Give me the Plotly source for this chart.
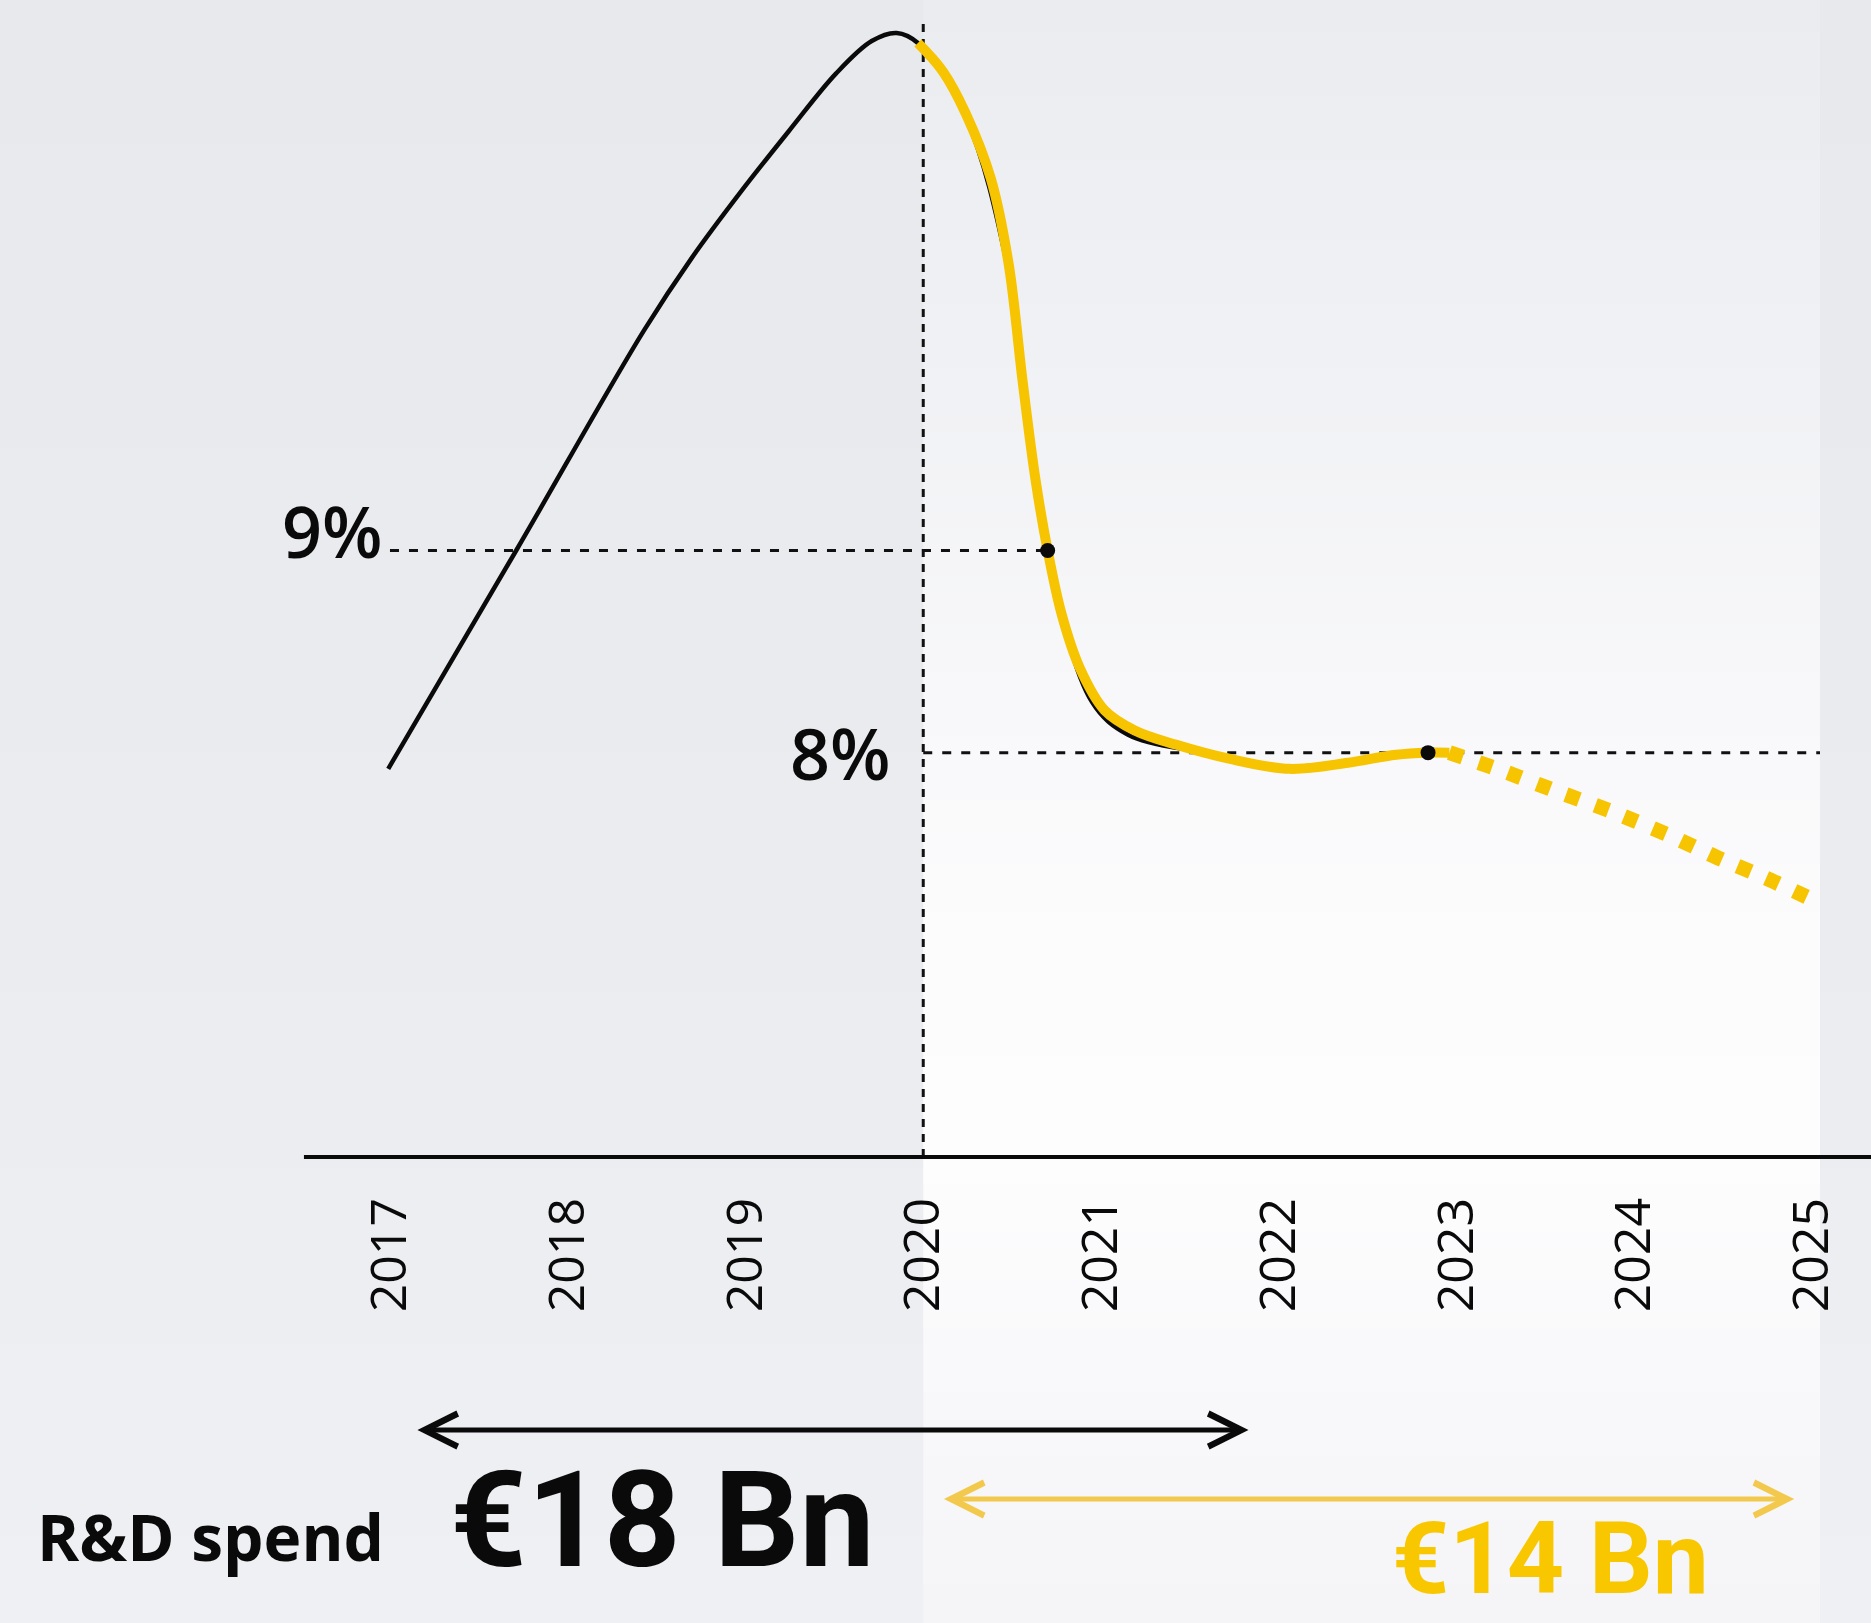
import plotly.graph_objects as go

# ---- data -----------------------------------------------------------------
years = [2017, 2018, 2019, 2020, 2021, 2022, 2023, 2024, 2025]
year_labels = ["2017", "2018", "2019", "2020", "2021", "2022", "2023", "2024", "2025"]

# operating margin, historical path (%)
hist_x = [2016.99, 2017.71, 2018.43, 2018.70, 2018.97, 2019.24, 2019.51, 2019.71,
          2019.85, 2019.97, 2020.24, 2020.48, 2020.70, 2020.95, 2021.15, 2021.45]
hist_y = [7.92, 9.00, 10.09, 10.45, 10.77, 11.07, 11.36, 11.52,
          11.56, 11.51, 11.14, 10.38, 9.00, 8.25, 8.09, 8.02]

# operating margin, plan path (%)
plan_x = [2019.97, 2020.11, 2020.24, 2020.38, 2020.48, 2020.56, 2020.63, 2020.70,
          2020.78, 2020.88, 2021.02, 2021.19, 2021.42, 2021.72, 2022.06, 2022.39,
          2022.66, 2022.84, 2022.96]
plan_y = [11.51, 11.37, 11.16, 10.84, 10.42, 9.83, 9.36, 9.00,
          8.68, 8.42, 8.21, 8.11, 8.04, 7.97, 7.92, 7.95,
          7.99, 8.00, 8.00]

# operating margin, projection (%)
proj_x = [2022.96, 2023.26, 2023.53, 2023.87, 2024.20, 2024.47, 2024.74, 2025.01]
proj_y = [8.00, 7.91, 7.82, 7.71, 7.59, 7.48, 7.38, 7.27]

# milestones
key_x = [2020.70, 2022.84]
key_y = [9.0, 8.0]
key_labels = ["9%", "8%"]

spend_title = "R&D spend"
spend_labels = ["€18 Bn", "€14 Bn"]

# ---- styling ----------------------------------------------------------------
W, H = 1871, 1623
AXIS_FRAC = 1 - 1157 / H          # paper height of the baseline
X_RANGE = [2014.806, 2025.332]
Y_RANGE = [6.0, 11.723]
YELLOW = "#F6C400"
ARROW_YELLOW = "#F2C94C"
BLACK = "#0a0a0a"
BAND_X = [2020.0, 2025.045]


def lerp_color(stops, t):
    for (t0, c0), (t1, c1) in zip(stops, stops[1:]):
        if t0 <= t <= t1:
            f = 0 if t1 == t0 else (t - t0) / (t1 - t0)
            return "rgb(%d,%d,%d)" % tuple(round(a + (b - a) * f) for a, b in zip(c0, c1))
    return "rgb(%d,%d,%d)" % stops[-1][1]


def gradient_strips(stops, xref, x0, x1, step=16):
    out = []
    for top in range(0, H, step):
        bot = min(H, top + step)
        col = lerp_color(stops, (top + bot) / 2)
        out.append(dict(type="rect", xref=xref, yref="paper", x0=x0, x1=x1,
                        y0=1 - bot / H, y1=1 - top / H, fillcolor=col,
                        line=dict(width=0), layer="below"))
    return out


page_stops = [(0, (232, 233, 237)), (900, (235, 236, 240)), (H, (239, 240, 243))]
band_stops = [(0, (235, 236, 240)), (400, (241, 242, 245)), (700, (248, 248, 250)),
              (950, (252, 252, 253)), (1157, (253, 253, 254)), (1350, (249, 249, 251)),
              (H, (245, 245, 248))]

shapes = []
shapes += gradient_strips(page_stops, "paper", 0, 1)
shapes += gradient_strips(band_stops, "x", BAND_X[0], BAND_X[1])

ref_line = dict(color="#111111", width=3, dash="9px,10px")
shapes += [
    dict(type="line", xref="x", yref="y", x0=2017.0, x1=key_x[0], y0=key_y[0], y1=key_y[0],
         line=ref_line, layer="below"),
    dict(type="line", xref="x", yref="y", x0=2020.0, x1=BAND_X[1], y0=key_y[1], y1=key_y[1],
         line=ref_line, layer="below"),
    dict(type="line", xref="x", yref="y", x0=2020.0, x1=2020.0, y0=Y_RANGE[0], y1=11.63,
         line=dict(color="#111111", width=3, dash="8px,7px"), layer="below"),
    # baseline
    dict(type="line", xref="x", yref="paper", x0=2016.516, x1=X_RANGE[1], y0=AXIS_FRAC,
         y1=AXIS_FRAC, line=dict(color=BLACK, width=4), layer="above"),
]

fig = go.Figure()
fig.add_trace(go.Scatter(x=hist_x, y=hist_y, mode="lines", hoverinfo="skip",
                         line=dict(color=BLACK, width=4.5, shape="spline", smoothing=1.0)))
fig.add_trace(go.Scatter(x=plan_x, y=plan_y, mode="lines", hoverinfo="skip",
                         line=dict(color=YELLOW, width=10, shape="spline", smoothing=1.0)))
fig.add_trace(go.Scatter(x=proj_x, y=proj_y, mode="lines", hoverinfo="skip",
                         line=dict(color=YELLOW, width=15, dash="14px,17px",
                                   shape="spline", smoothing=0.6)))
fig.add_trace(go.Scatter(x=key_x, y=key_y, mode="markers", hoverinfo="skip",
                         marker=dict(color=BLACK, size=15)))
# empty trace so the lower annotation axis exists
fig.add_trace(go.Scatter(x=[], y=[], xaxis="x", yaxis="y2", hoverinfo="skip"))

annotations = [
    dict(x=2016.97, y=key_y[0], xref="x", yref="y", text=key_labels[0], showarrow=False,
         xanchor="right", yanchor="middle", yshift=20,
         font=dict(family="Open Sans", size=70, color=BLACK, weight=600)),
    dict(x=2019.83, y=key_y[1], xref="x", yref="y", text=key_labels[1], showarrow=False,
         xanchor="right", yanchor="middle",
         font=dict(family="Open Sans", size=70, color=BLACK, weight=600)),
    # spend period arrows
    dict(x=2021.83, y=0.414, ax=2017.146, ay=0.414, xref="x", yref="y2", axref="x",
         ayref="y2", text="", showarrow=True, arrowside="end+start", arrowhead=5,
         startarrowhead=5, arrowwidth=5, arrowsize=1.3, startarrowsize=1.3,
         arrowcolor=BLACK, standoff=0, startstandoff=0),
    dict(x=2024.90, y=0.266, ax=2020.108, ay=0.266, xref="x", yref="y2", axref="x",
         ayref="y2", text="", showarrow=True, arrowside="end+start", arrowhead=5,
         startarrowhead=5, arrowwidth=5, arrowsize=1.3, startarrowsize=1.3,
         arrowcolor=ARROW_YELLOW, standoff=0, startstandoff=0),
    dict(x=2015.003, y=0.186, xref="x", yref="y2", text=spend_title, showarrow=False,
         xanchor="left", yanchor="middle",
         font=dict(family="Open Sans", size=64, color=BLACK, weight=700)),
    dict(x=2017.326, y=0.221, xref="x", yref="y2", text=spend_labels[0], showarrow=False,
         xanchor="left", yanchor="middle",
         font=dict(family="Roboto", size=134, color=BLACK, weight=700)),
    dict(x=2022.626, y=0.008, xref="x", yref="y2", text=spend_labels[1], showarrow=False,
         xanchor="left", yanchor="bottom",
         font=dict(family="Roboto", size=100, color="#F9C700", weight=700)),
]

fig.update_layout(
    width=W, height=H, autosize=False,
    margin=dict(l=0, r=0, t=0, b=0, pad=0),
    paper_bgcolor="#e9eaee", plot_bgcolor="rgba(0,0,0,0)",
    showlegend=False,
    shapes=shapes,
    annotations=annotations,
    xaxis=dict(range=X_RANGE, domain=[0, 1], anchor="y", tickmode="array",
               tickvals=years, ticktext=year_labels, tickangle=-90, ticks="",
               ticklabelstandoff=30, showgrid=False, zeroline=False, showline=False,
               tickfont=dict(family="Open Sans", size=50, color=BLACK, weight=500),
               fixedrange=True),
    yaxis=dict(range=Y_RANGE, domain=[AXIS_FRAC, 1], anchor="x", visible=False,
               showgrid=False, zeroline=False, fixedrange=True),
    yaxis2=dict(range=[0, 1], domain=[0, AXIS_FRAC], anchor="x", visible=False,
                showgrid=False, zeroline=False, fixedrange=True),
)

fig.write_html("out.html")
